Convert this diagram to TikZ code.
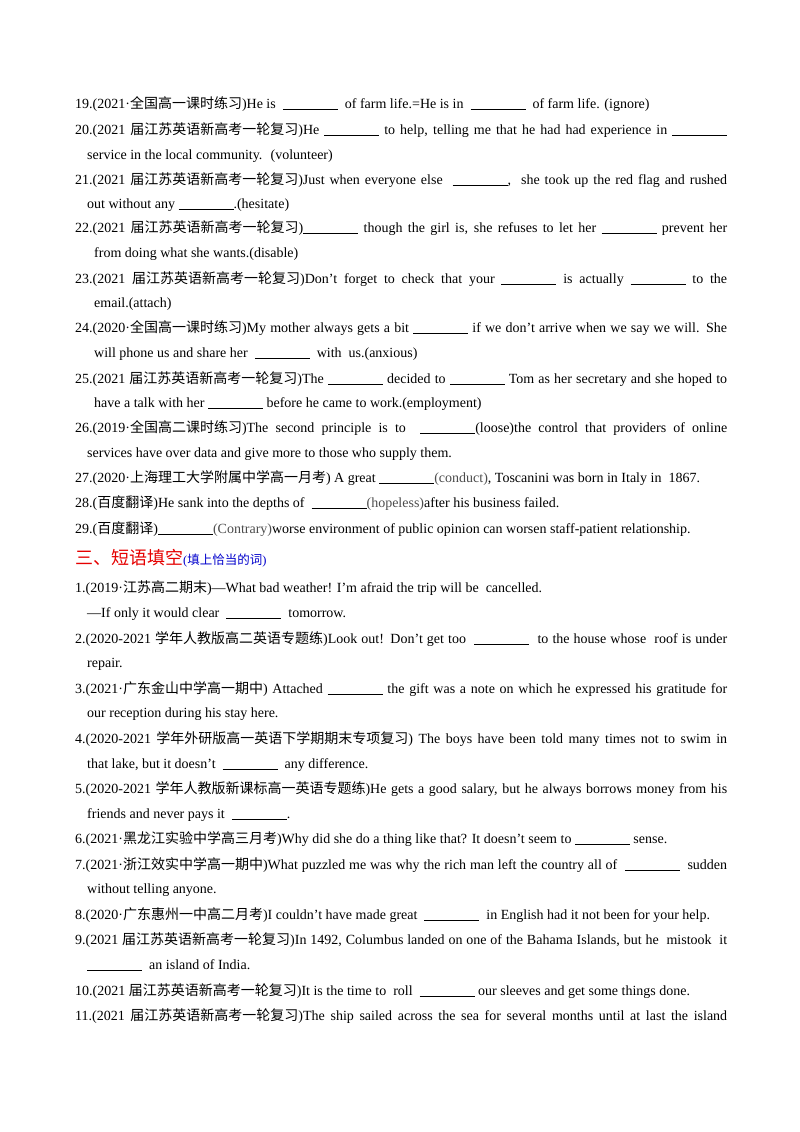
\documentclass[tikz,border=0pt]{standalone}
\usepackage{fontspec}
\setmainfont{Liberation Serif}
\newfontfamily\cjk{Noto Sans CJK SC}
\newcommand\C[1]{{\cjk #1}}
\newcommand\G[1]{\textcolor{gray!60!black}{#1}}
\newcommand\B{\underline{\hspace{55pt}}}
\tikzset{ln/.style={anchor=base west,inner sep=0pt,font=\fontsize{14}{16}\selectfont}}
\newcommand\J[2]{\node[ln] (n#1) at (75,#1) {\hbox to 652pt{#2}};}
\newcommand\T[3]{\node[ln] (m#2) at (#1,#2) {#3};}
\begin{document}
\begin{tikzpicture}[x=1pt,y=-1pt]
\useasboundingbox (0,0) rectangle (800,1132);
\T{75}{108}{19.(2021·\C{全国高一课时练习})He is \ \B\ \ of farm life.=He is in \ \B\ \ of farm life. (ignore)}
\J{134}{20.(2021 \C{届江苏英语新高考一轮复习})He \B\ to help, telling me that he had had experience in \B}
\T{87}{159}{service in the local community. \ (volunteer)}
\J{184}{21.(2021 \C{届江苏英语新高考一轮复习})Just when everyone else \ \B, \ she took up the red flag and rushed}
\T{87}{208}{out without any \B.(hesitate)}
\J{232}{22.(2021 \C{届江苏英语新高考一轮复习})\B\ though the girl is, she refuses to let her \B\ prevent her}
\T{94}{257}{from doing what she wants.(disable)}
\J{283}{23.(2021 \C{届江苏英语新高考一轮复习})Don't forget to check that your \B\ is actually \B\ to the}
\T{94}{307}{email.(attach)}
\J{332}{24.(2020·\C{全国高一课时练习})My mother always gets a bit \B\ if we don't arrive when we say we will. She}
\T{94}{357}{will phone us and share her \ \B\ \ with \ us.(anxious)}
\J{383}{25.(2021 \C{届江苏英语新高考一轮复习})The \B\ decided to \B\ Tom as her secretary and she hoped to}
\T{94}{407}{have a talk with her \B\ before he came to work.(employment)}
\J{432}{26.(2019·\C{全国高二课时练习})The second principle is to \ \B(loose)the control that providers of online}
\T{87}{457}{services have over data and give more to those who supply them.}
\T{75}{482}{27.(2020·\C{上海理工大学附属中学高一月考}) A great \B\G{(conduct)}, Toscanini was born in Italy in \ 1867.}
\T{75}{507}{28.(\C{百度翻译})He sank into the depths of \ \B\G{(hopeless)}after his business failed.}
\T{75}{533}{29.(\C{百度翻译})\B\G{(Contrary)}worse environment of public opinion can worsen staff-patient relationship.}
\node[ln,font=\fontsize{18}{20}\selectfont] (hd) at (75,564) {\textcolor{red!90!black}{\C{三、短语填空}}\textcolor{blue!80!black}{\fontsize{12.5}{14}\selectfont(\C{填上恰当的词})}};
\T{75}{592}{1.(2019·\C{江苏高二期末})—What bad weather! I'm afraid the trip will be \ cancelled.}
\T{87}{617}{—If only it would clear \ \B\ \ tomorrow.}
\J{643}{2.(2020-2021 \C{学年人教版高二英语专题练})Look out! Don't get too \ \B\ \ to the house whose \ roof is under}
\T{87}{667}{repair.}
\J{693}{3.(2021·\C{广东金山中学高一期中}) Attached \B\ the gift was a note on which he expressed his gratitude for}
\T{87}{717}{our reception during his stay here.}
\J{743}{4.(2020-2021 \C{学年外研版高一英语下学期期末专项复习}) The boys have been told many times not to swim in}
\T{87}{768}{that lake, but it doesn't \ \B\ \ any difference.}
\J{793}{5.(2020-2021 \C{学年人教版新课标高一英语专题练})He gets a good salary, but he always borrows money from his}
\T{87}{818}{friends and never pays it \ \B.}
\T{75}{843}{6.(2021·\C{黑龙江实验中学高三月考})Why did she do a thing like that? It doesn't seem to \B\ sense.}
\J{869}{7.(2021·\C{浙江效实中学高一期中})What puzzled me was why the rich man left the country all of \ \B\ \ sudden}
\T{87}{893}{without telling anyone.}
\T{75}{919}{8.(2020·\C{广东惠州一中高二月考})I couldn't have made great \ \B\ \ in English had it not been for your help.}
\J{944}{9.(2021 \C{届江苏英语新高考一轮复习})In 1492, Columbus landed on one of the Bahama Islands, but he \ mistook \ it}
\T{87}{969}{\B\ \ an island of India.}
\T{75}{995}{10.(2021 \C{届江苏英语新高考一轮复习})It is the time to \ roll \ \B\ our sleeves and get some things done.}
\J{1020}{11.(2021 \C{届江苏英语新高考一轮复习})The ship sailed across the sea for several months until at last the island}
\end{tikzpicture}
\end{document}
